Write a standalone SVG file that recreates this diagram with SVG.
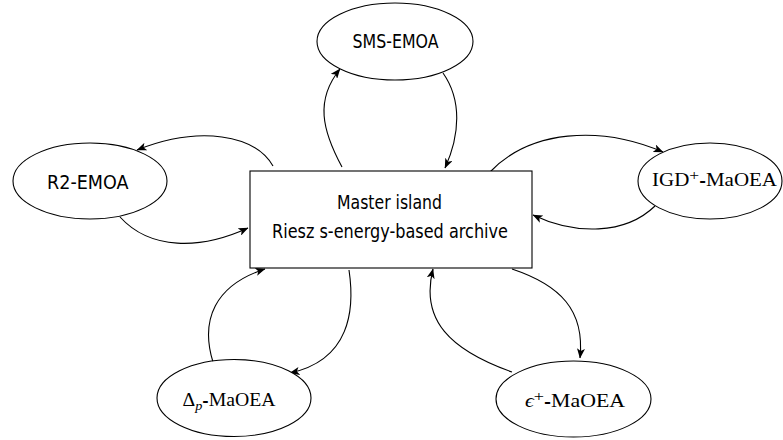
<svg xmlns="http://www.w3.org/2000/svg" width="783" height="440" viewBox="0 0 783 440">
<defs>
<marker id="arr" viewBox="0 0 10 8" refX="9.5" refY="4" markerWidth="10" markerHeight="8" markerUnits="userSpaceOnUse" orient="auto">
<path d="M0,0 L10,4 L0,8 L2.5,4 z" fill="#000"/>
</marker>
</defs>
<style>
.n{fill:#fff;stroke:#000;stroke-width:1.1}
.s{font-family:"DejaVu Sans",sans-serif;font-size:19px;fill:#000}
.r{font-family:"Liberation Serif","DejaVu Serif",serif;font-size:18px;fill:#000}
.h{font-family:"DejaVu Sans",sans-serif;font-weight:bold}
.c path{fill:none;stroke:#000;stroke-width:1.1;marker-end:url(#arr)}
</style>
<rect width="783" height="440" fill="#fff"/>
<g class="c" id="connectors">
<path d="M342,167 C322,130 315,100 340,69"/>
<path d="M443,73 C462,100 460,135 445,168"/>
<path d="M273,166 C255,135 200,125 137,150"/>
<path d="M120,217 C150,250 200,250 248,228"/>
<path d="M490,172 C530,130 600,125 663,152"/>
<path d="M655,206 C625,235 575,235 533,215"/>
<path d="M213,362 C200,320 215,285 265,269"/>
<path d="M349,270 C355,310 350,360 290,373"/>
<path d="M512,372 C450,350 420,320 433,269"/>
<path d="M512,269 C560,285 585,310 580,358"/>
</g>
<g id="master">
<rect class="n" x="250" y="171" width="282" height="97"/>
<text class="s" x="337" y="209" textLength="105" lengthAdjust="spacingAndGlyphs">Master island</text>
<text class="s" x="272" y="238" textLength="236" lengthAdjust="spacingAndGlyphs">Riesz s-energy-based archive</text>
</g>
<g id="sms">
<ellipse class="n" cx="395" cy="41.5" rx="78" ry="38.5"/>
<text class="s" x="352.5" y="48" textLength="86" lengthAdjust="spacingAndGlyphs">SMS-EMOA</text>
</g>
<g id="r2">
<ellipse class="n" cx="90" cy="181" rx="77" ry="38"/>
<text class="s" x="47" y="189" textLength="81.5" lengthAdjust="spacingAndGlyphs">R2-EMOA</text>
</g>
<g id="igd">
<ellipse class="n" cx="710" cy="181" rx="72" ry="38"/>
<text class="r" x="652" y="186" textLength="125" lengthAdjust="spacingAndGlyphs">IGD<tspan font-size="15" dy="-6">+</tspan><tspan class="h" font-size="14" dy="6">-</tspan>MaOEA</text>
</g>
<g id="deltap">
<ellipse class="n" cx="234" cy="398" rx="77" ry="38.5"/>
<text class="r" x="182.5" y="406" textLength="93" lengthAdjust="spacingAndGlyphs">Δ<tspan font-style="italic" font-size="13" dy="4">p</tspan><tspan class="h" font-size="14" dy="-4">-</tspan>MaOEA</text>
</g>
<g id="eps">
<ellipse class="n" cx="573.5" cy="399" rx="77.5" ry="38"/>
<text class="r" x="525" y="406.5" textLength="100" lengthAdjust="spacingAndGlyphs"><tspan font-style="italic">ϵ</tspan><tspan font-size="15" dy="-6">+</tspan><tspan class="h" font-size="14" dy="6">-</tspan>MaOEA</text>
</g>
</svg>
